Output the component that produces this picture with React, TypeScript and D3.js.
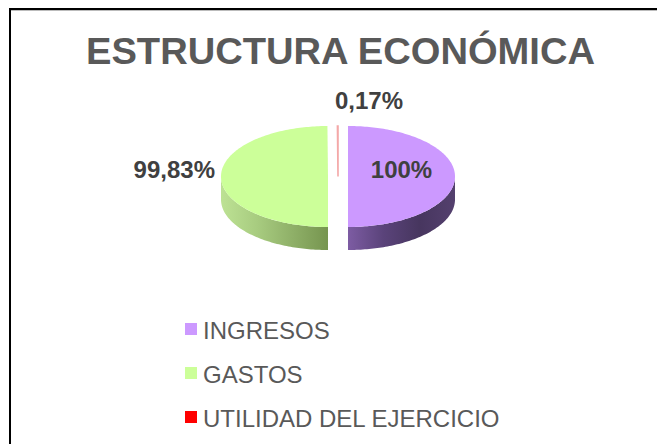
import React from "react";
import * as d3 from "d3";

const categories = ["INGRESOS", "GASTOS", "UTILIDAD DEL EJERCICIO"];
const values = [100, 99.83, 0.17];
const valueLabels = ["100%", "99,83%", "0,17%"];
const topColors = ["#CC99FF", "#CCFF99", "#FF0000"];

const W = 657;
const H = 444;
const CX = 338;
const CY = 176.5;
const RX = 107;
const RY = 50.5;
const DEPTH = 23;
const explode = [10, 10, 0];
const sideGrad = [
  ["#7d5ca3", "#5a437a", "#47365f", "#54406e"],
  ["#bde294", "#a8cc80", "#8fb068", "#76954f"],
  ["#c00000", "#c00000", "#c00000", "#c00000"],
];

function pt(a: number, ox: number, oy: number, dz = 0): [number, number] {
  return [CX + ox + RX * Math.sin(a), CY + oy - RY * Math.cos(a) + dz];
}

function arcPts(a0: number, a1: number, ox: number, oy: number, dz = 0) {
  const n = Math.max(2, Math.ceil(Math.abs(a1 - a0) / 0.02));
  return d3.range(n + 1).map((i) => pt(a0 + ((a1 - a0) * i) / n, ox, oy, dz));
}

export default function App() {
  const arcs = d3.pie<number>().sort(null).value((d) => d)(values);
  const line = d3.line();

  const slices = arcs.map((a, i) => {
    const mid = (a.startAngle + a.endAngle) / 2;
    const ox = explode[i] * Math.sin(mid);
    const oy = -explode[i] * Math.cos(mid) * (RY / RX);
    const topPts: [number, number][] = [
      [CX + ox, CY + oy],
      ...arcPts(a.startAngle, a.endAngle, ox, oy),
    ];
    const top = line(topPts) + "Z";
    let side: string | null = null;
    const s0 = Math.max(a.startAngle, Math.PI / 2);
    const s1 = Math.min(a.endAngle, (3 * Math.PI) / 2);
    if (s1 > s0) {
      const up = arcPts(s0, s1, ox, oy);
      const down = arcPts(s1, s0, ox, oy, DEPTH);
      side = line([...up, ...down]) + "Z";
    }
    const xs0 = pt(s0, ox, oy)[0];
    const xs1 = pt(s1, ox, oy)[0];
    return { i, ox, oy, top, side, xs0: Math.min(xs0, xs1), xs1: Math.max(xs0, xs1) };
  });

  const legendY = [329, 373, 417];

  return (
    <svg
      width={W}
      height={H}
      style={{ position: "fixed", left: 0, top: 0, background: "#fff" }}
      fontFamily="Arial, 'Liberation Sans', sans-serif"
    >
      <defs>
        {slices.map((s) => (
          <linearGradient
            key={s.i}
            id={`side${s.i}`}
            gradientUnits="userSpaceOnUse"
            x1={s.xs0}
            x2={s.xs1}
            y1={0}
            y2={0}
          >
            {sideGrad[s.i].map((c, k) => (
              <stop key={k} offset={k / (sideGrad[s.i].length - 1)} stopColor={c} />
            ))}
          </linearGradient>
        ))}
      </defs>
      <rect x={0} y={0} width={W} height={H} fill="#fff" />
      <line x1={10} y1={10.5} x2={W} y2={10.5} stroke="#bbb" strokeWidth={1} />
      <path d={`M10,${H} L10,9 L${W},9`} fill="none" stroke="#000" strokeWidth={2} />

      <text
        x={86}
        y={64}
        fontSize={36}
        fontWeight="bold"
        fill="#595959"
        textLength={509}
        lengthAdjust="spacingAndGlyphs"
      >
        ESTRUCTURA ECONÓMICA
      </text>

      {slices.map((s) =>
        s.side ? <path key={`s${s.i}`} d={s.side} fill={`url(#side${s.i})`} /> : null
      )}
      {slices.map((s) => (
        <path
          key={`t${s.i}`}
          d={s.top}
          fill={s.i === 2 ? "#F4A8A8" : topColors[s.i]}
          stroke={s.i === 2 ? "#F4A8A8" : "none"}
          strokeWidth={s.i === 2 ? 1.6 : 0}
        />
      ))}

      <text x={CX + explode[0] + RX * 0.5} y={CY + 1.5} fontSize={24} fontWeight="bold" fill="#404040" textAnchor="middle">
        {valueLabels[0]}
      </text>
      <text x={CX - explode[1] - RX - 6} y={CY + 1.5} fontSize={24} fontWeight="bold" fill="#404040" textAnchor="end">
        {valueLabels[1]}
      </text>
      <text x={CX - 3} y={CY - RY - 17.5} fontSize={24} fontWeight="bold" fill="#404040" textAnchor="start">
        {valueLabels[2]}
      </text>

      {categories.map((c, i) => (
        <g key={c}>
          <rect x={185} y={legendY[i] - 6} width={12} height={12} fill={topColors[i]} />
          <text x={203} y={legendY[i] + 10} fontSize={24} fill="#595959">
            {c}
          </text>
        </g>
      ))}
    </svg>
  );
}
